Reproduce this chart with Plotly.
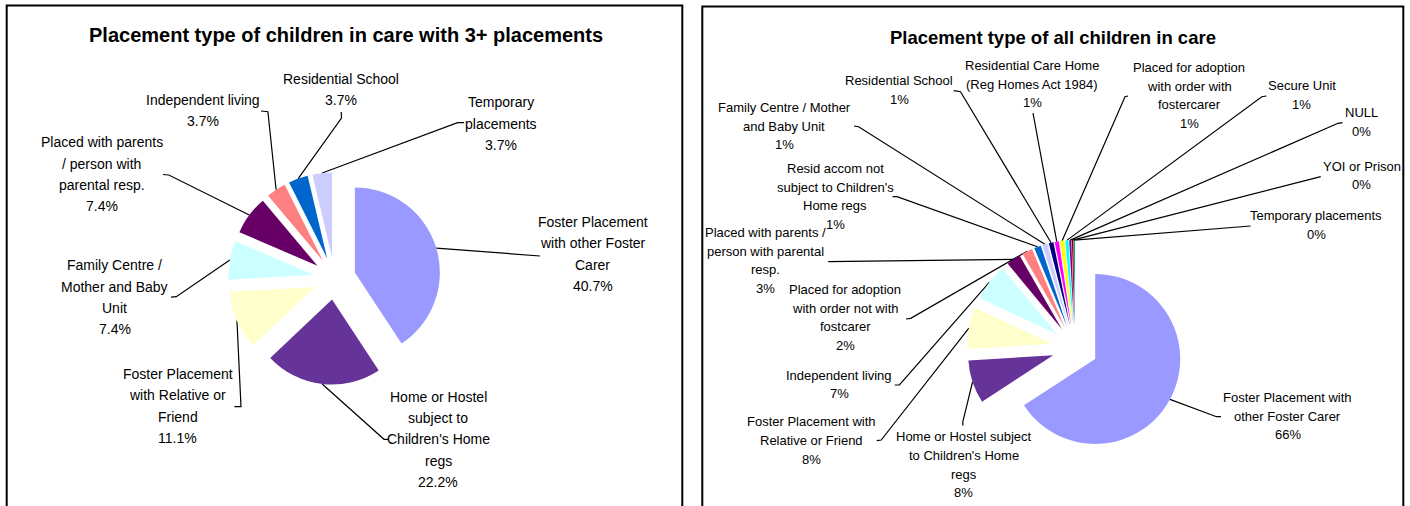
import math
import plotly.graph_objects as go

W, H = 1410, 506
FONT = "Arial, Liberation Sans, sans-serif"

# ---------------- data: left chart ----------------
left_title = "Placement type of children in care with 3+ placements"
left_categories = [
    "Foster Placement with other Foster Carer",
    "Home or Hostel subject to Children's Home regs",
    "Foster Placement with Relative or Friend",
    "Family Centre / Mother and Baby Unit",
    "Placed with parents / person with parental resp.",
    "Independent living",
    "Residential School",
    "Temporary placements",
]
left_values = [11, 6, 3, 2, 2, 1, 1, 1]
left_label_lines = [
    ["Foster Placement", "with other Foster", "Carer"],
    ["Home or Hostel", "subject to", "Children's Home", "regs"],
    ["Foster Placement", "with Relative or", "Friend"],
    ["Family Centre /", "Mother and Baby", "Unit"],
    ["Placed with parents", "/ person with", "parental resp."],
    ["Independent living"],
    ["Residential School"],
    ["Temporary", "placements"],
]
left_colors = ["#9999FF", "#663399", "#FFFFCC", "#CCFFFF", "#660066",
               "#FF8080", "#0066CC", "#CCCCFF"]

# ---------------- data: right chart ----------------
right_title = "Placement type of all children in care"
right_categories = [
    "Foster Placement with other Foster Carer",
    "Home or Hostel subject to Children's Home regs",
    "Foster Placement with Relative or Friend",
    "Independent living",
    "Placed with parents / person with parental resp.",
    "Placed for adoption with order not with fostcarer",
    "Resid accom not subject to Children's Home regs",
    "Family Centre / Mother and Baby Unit",
    "Residential School",
    "Residential Care Home (Reg Homes Act 1984)",
    "Placed for adoption with order with fostercarer",
    "Secure Unit",
    "NULL",
    "YOI or Prison",
    "Temporary placements",
]
right_values = [65.8, 8.2, 7.9, 7.1, 2.7, 2.0, 1.3, 1.0, 0.9, 0.8, 0.8, 0.6, 0.4, 0.3, 0.2]
right_label_lines = [
    ["Foster Placement with", "other Foster Carer"],
    ["Home or Hostel subject", "to Children's Home", "regs"],
    ["Foster Placement with", "Relative or Friend"],
    ["Independent living"],
    ["Placed with parents /", "person with parental", "resp."],
    ["Placed for adoption", "with order not with", "fostcarer"],
    ["Resid accom not", "subject to Children's", "Home regs"],
    ["Family Centre / Mother", "and Baby Unit"],
    ["Residential School"],
    ["Residential Care Home", "(Reg Homes Act 1984)"],
    ["Placed for adoption", "with order with", "fostercarer"],
    ["Secure Unit"],
    ["NULL"],
    ["YOI or Prison"],
    ["Temporary placements"],
]
right_colors = ["#9999FF", "#663399", "#FFFFCC", "#CCFFFF", "#660066", "#FF8080",
                "#0066CC", "#CCCCFF", "#000080", "#FF00FF", "#FFFF00", "#00FFFF",
                "#800080", "#800000", "#008080"]

# ---------------- layout (pixels) ----------------
left_geom = dict(cx=334.5, cy=278.5, r=85, pull=0.25, font=14, spacing=21.3, decimals=1)
right_geom = dict(cx=1075, cy=348, r=85, pull=0.27, font=13, spacing=18.7, decimals=0)

# label centre (x, first line y), leader elbow, leader end
left_label_pos = [(592.8, 222), (438.4, 396.7), (177.7, 374), (114.7, 265.3),
                  (101.8, 142.3), (203, 100), (340.6, 79), (501.3, 102.3)]
left_elbow = [(535.7, 256), (384, 439.3), (241, 406.7), (176.3, 296.7),
              (168.8, 175), (267.9, 111.7), (341.5, 118), (457.6, 122.7)]
left_end = [(540, 256), (388, 439.3), (234.4, 406.7), (171, 297.2),
            (163, 174.5), (261, 111), (341.2, 112), (464, 122.7)]

right_label_pos = [(1287.7, 397.3), (963.7, 436.7), (811, 421.7), (839.1, 375),
                   (765.7, 232.3), (845, 289.3), (835, 168.3), (784.3, 107.3),
                   (899.4, 80.3), (1032, 65.3), (1189.4, 67.3), (1301.7, 85.7),
                   (1361.5, 112.7), (1361.5, 166), (1316.2, 215.7)]
right_elbow = [(1216.5, 416.7), (962.8, 421.7), (881.2, 440), (899.4, 385),
               (828.2, 261.7), (910.7, 318.3), (897, 196.7), (858.6, 126.7),
               (960.5, 91.7), (1033, 115), (1125, 96.7), (1261.8, 96.7),
               (1338, 123.3), (1318.5, 177.3), (1248.3, 226)]
right_end = [(1221, 416.7), (962.8, 425.5), (876.7, 440.7), (894.8, 385),
             (828.2, 261.7), (906, 319), (892.6, 196.7), (854, 126),
             (953.7, 90.7), (1033, 113), (1128, 96), (1266.4, 96),
             (1342.5, 122.7), (1320.7, 176.7), (1250.5, 226)]

fig = go.Figure()


def add_pie(categories, values, colors, g):
    S = 2 * g["r"] * (1 + g["pull"])
    fig.add_trace(go.Pie(
        labels=categories, values=values, sort=False, direction="clockwise",
        rotation=0, pull=[g["pull"]] * len(values),
        marker=dict(colors=colors, line=dict(width=0)),
        textinfo="none", hoverinfo="label+percent", showlegend=False,
        domain=dict(x=[(g["cx"] - S / 2) / W, (g["cx"] + S / 2) / W],
                    y=[1 - (g["cy"] + S / 2) / H, 1 - (g["cy"] - S / 2) / H]),
    ))


def add_leaders_and_labels(values, label_lines, g, pos, elbow, end):
    total = float(sum(values))
    xs, ys = [], []
    cum = 0.0
    R = g["r"] * (1 + g["pull"])
    for v, (ex, ey), (tx, ty) in zip(values, elbow, end):
        mid = (cum + v / 2) / total * 2 * math.pi
        cum += v
        px = g["cx"] + R * math.sin(mid)
        py = g["cy"] - R * math.cos(mid)
        xs += [px, ex, tx, None]
        ys += [py, ey, ty, None]
    fig.add_trace(go.Scatter(x=xs, y=ys, mode="lines", line=dict(color="black", width=1.2),
                             hoverinfo="skip", showlegend=False))
    for lines, v, (x, y) in zip(label_lines, values, pos):
        pct = f"{v / total * 100:.{g['decimals']}f}%"
        for i, t in enumerate(lines + [pct]):
            fig.add_annotation(x=x, y=y + i * g["spacing"], xref="x", yref="y", text=t,
                               showarrow=False, xanchor="center", yanchor="middle",
                               font=dict(size=g["font"], color="black", family=FONT))


add_leaders_and_labels(left_values, left_label_lines, left_geom, left_label_pos, left_elbow, left_end)
add_leaders_and_labels(right_values, right_label_lines, right_geom, right_label_pos, right_elbow, right_end)
add_pie(left_categories, left_values, left_colors, left_geom)
add_pie(right_categories, right_values, right_colors, right_geom)

fig.add_annotation(x=345.5, y=34.5, xref="x", yref="y", text="<b>" + left_title + "</b>",
                   showarrow=False, xanchor="center", yanchor="middle",
                   font=dict(size=20, color="black", family=FONT))
fig.add_annotation(x=1052.5, y=37, xref="x", yref="y", text="<b>" + right_title + "</b>",
                   showarrow=False, xanchor="center", yanchor="middle",
                   font=dict(size=18.5, color="black", family=FONT))

# panel frames
fig.add_shape(type="rect", xref="x", yref="y", x0=6.7, x1=682.3, y0=5.5, y1=530,
              line=dict(color="black", width=2), fillcolor="rgba(0,0,0,0)", layer="below")
fig.add_shape(type="rect", xref="x", yref="y", x0=702.3, x1=1403.3, y0=6.5, y1=530,
              line=dict(color="black", width=2), fillcolor="rgba(0,0,0,0)", layer="below")

fig.update_layout(
    width=W, height=H, margin=dict(l=0, r=0, t=0, b=0),
    paper_bgcolor="white", plot_bgcolor="white",
    xaxis=dict(range=[0, W], visible=False, fixedrange=True, domain=[0, 1]),
    yaxis=dict(range=[H, 0], visible=False, fixedrange=True, domain=[0, 1]),
    font=dict(family=FONT, color="black"),
    showlegend=False,
)

fig.write_html("out.html", config={"displayModeBar": False},
               post_script="document.body.style.margin='0';")
